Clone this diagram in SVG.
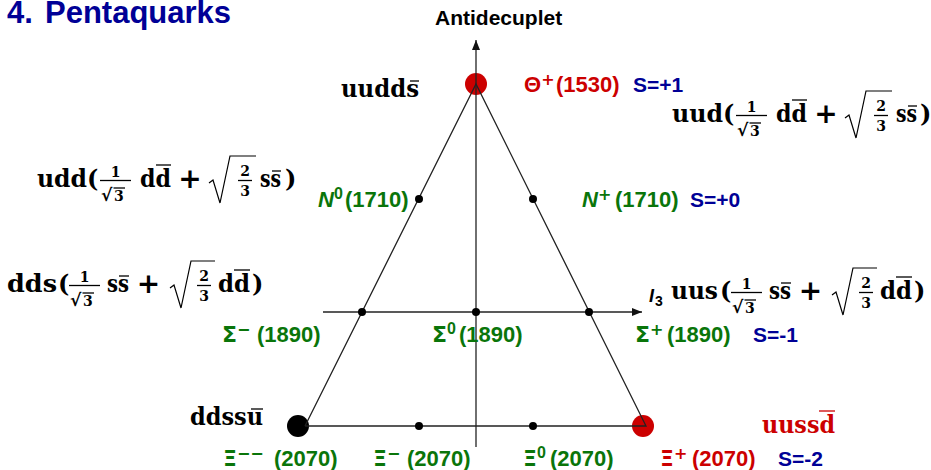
<svg xmlns="http://www.w3.org/2000/svg" width="931" height="470" viewBox="0 0 931 470">
<style>
.lab{font-family:"Liberation Sans",Arial,sans-serif;font-weight:bold;font-size:22px}
.gr{font-family:"DejaVu Sans",sans-serif;font-weight:bold}
.s21{font-size:21px}
.sup{font-family:"DejaVu Sans",sans-serif;font-weight:bold;font-size:16px}
.sup0{font-size:16px}
.it{font-style:italic}
.g{fill:#0a750a}.r{fill:#cc0000}.b{fill:#000096}.k{fill:#000}
.m{font-family:"DejaVu Serif",serif;font-weight:bold;font-size:24px}
.pl{font-size:28px}
.ms{font-family:"DejaVu Serif",serif;font-weight:bold;font-size:14px}
.sq{font-family:"DejaVu Sans",sans-serif;font-weight:bold;font-size:17px}
.bar{stroke:#000;stroke-width:1.3}
.rbar{stroke:#cc0000;stroke-width:1.3}
.rad{fill:none;stroke:#000;stroke-width:1.2;stroke-linejoin:miter}
.ln{stroke:#222;stroke-width:1.3;fill:none}
.dot{fill:#000}
</style>
<defs>
<marker id="ah" viewBox="0 0 10 8" refX="10" refY="4" markerWidth="11" markerHeight="8" markerUnits="userSpaceOnUse" orient="auto">
<path d="M0,0 L10,4 L0,8 z" fill="#111"/>
</marker>
</defs>
<rect width="931" height="470" fill="#fff"/>
<text class="lab b" style="font-size:31px" x="7" y="23">4.<tspan x="45">Pentaquarks</tspan></text>
<text class="lab k s21" x="435" y="25">Antidecuplet</text>
<g id="theta-vertex"><circle cx="476" cy="84" r="11" fill="#cc0000"/></g>
<g id="xi--vertex"><circle cx="298" cy="426" r="11" fill="#000"/></g>
<g id="xi+vertex"><circle cx="643" cy="426" r="11" fill="#cc0000"/></g>
<g id="connectors">
<line class="ln" x1="476" y1="447" x2="476" y2="40" marker-end="url(#ah)"/>
<line class="ln" x1="323" y1="312" x2="642" y2="312" marker-end="url(#ah)"/>
<polyline class="ln" points="305,426 476,84 646,426 305,426"/>
</g>
<g id="theta">
<text class="m" x="341" y="97" textLength="78" lengthAdjust="spacingAndGlyphs">uudds</text>
<line class="bar" x1="410" y1="81" x2="419" y2="81"/>
<text class="lab r" x="524" y="92">Θ<tspan class="sup" dy="-7">+</tspan><tspan x="556" y="92">(1530)</tspan></text>
<text class="lab b s21" x="633" y="92">S=+1</text>
</g>
<g id="N0">
<circle class="dot" cx="419" cy="199" r="4"/>
<text class="lab g" x="318" y="207"><tspan class="it">N</tspan><tspan class="sup0" dy="-8">0</tspan><tspan x="345" y="207">(1710)</tspan></text>
</g>
<g id="Nplus">
<circle class="dot" cx="533" cy="199" r="4"/>
<text class="lab g" x="582" y="207"><tspan class="it">N</tspan><tspan class="sup" dy="-7">+</tspan><tspan x="615" y="207">(1710)</tspan></text>
<text class="lab b s21" x="690" y="207">S=+0</text>
</g>
<g id="Sigma-">
<circle class="dot" cx="362" cy="312" r="4"/>
<text class="lab g" x="222" y="342"><tspan class="gr">Σ</tspan><tspan class="sup" dy="-7">−</tspan><tspan x="257" y="342">(1890)</tspan></text>
</g>
<g id="Sigma0">
<circle class="dot" cx="476" cy="312" r="4"/>
<text class="lab g" x="432" y="342"><tspan class="gr">Σ</tspan><tspan class="sup0" dy="-8">0</tspan><tspan x="459" y="342">(1890)</tspan></text>
</g>
<g id="Sigma+">
<circle class="dot" cx="589" cy="312" r="4"/>
<text class="lab g" x="635" y="342"><tspan class="gr">Σ</tspan><tspan class="sup" dy="-7">+</tspan><tspan x="667" y="342">(1890)</tspan></text>
<text class="lab b s21" x="753" y="342">S=-1</text>
</g>
<g id="Xi--">
<text class="m" x="190" y="425" textLength="73" lengthAdjust="spacingAndGlyphs">ddssu</text>
<line class="bar" x1="251" y1="409" x2="263" y2="409"/>
<text class="lab g" x="223" y="466"><tspan class="gr">Ξ</tspan><tspan class="sup" dy="-7">−−</tspan><tspan x="274" y="466">(2070)</tspan></text>
</g>
<g id="Xi-">
<circle class="dot" cx="419" cy="426" r="4"/>
<text class="lab g" x="373" y="466"><tspan class="gr">Ξ</tspan><tspan class="sup" dy="-7">−</tspan><tspan x="407" y="466">(2070)</tspan></text>
</g>
<g id="Xi0">
<circle class="dot" cx="533" cy="426" r="4"/>
<text class="lab g" x="523" y="466"><tspan class="gr">Ξ</tspan><tspan class="sup0" dy="-8">0</tspan><tspan x="550" y="466">(2070)</tspan></text>
</g>
<g id="Xi+">
<text class="m r" x="762" y="433" textLength="73" lengthAdjust="spacingAndGlyphs">uussd</text>
<line class="rbar" x1="819" y1="411" x2="835" y2="411"/>
<text class="lab r" x="660" y="466"><tspan class="gr">Ξ</tspan><tspan class="sup" dy="-7">+</tspan><tspan x="692" y="466">(2070)</tspan></text>
<text class="lab b s21" x="778" y="466">S=-2</text>
</g>
<text class="lab k" style="font-size:18px" x="649" y="302"><tspan class="it">I</tspan><tspan style="font-size:14px" x="655" y="306">3</tspan></text>
<g id="f-uud">
<text class="m" x="672" y="122" textLength="51" lengthAdjust="spacingAndGlyphs">uud</text>
<g transform="translate(723,122)">
<text class="m" x="0" y="0">(</text>
<text class="ms" x="28.5" y="-10" text-anchor="middle">1</text>
<line class="bar" x1="13" y1="-6.5" x2="44" y2="-6.5"/>
<text class="sq" x="14" y="14">√</text>
<text class="ms" x="27" y="14">3</text>
<line class="bar" x1="26.5" y1="1" x2="38" y2="1"/>
<text class="m" x="53" y="0" textLength="31" lengthAdjust="spacingAndGlyphs">dd</text>
<line class="bar" x1="69" y1="-22" x2="84" y2="-22"/>
<text class="m pl" x="103" y="1" text-anchor="middle">+</text>
<path class="rad" d="M122,-4 L126,-7 L133,16 L143,-31 L169,-31"/>
<text class="ms" x="158" y="-11" text-anchor="middle">2</text>
<line class="bar" x1="151" y1="-6.5" x2="165" y2="-6.5"/>
<text class="ms" x="158" y="9" text-anchor="middle">3</text>
<text class="m" x="173" y="0" textLength="21" lengthAdjust="spacingAndGlyphs">ss</text>
<line class="bar" x1="185" y1="-16" x2="194" y2="-16"/>
<text class="m" x="197" y="0">)</text>
</g>
</g>
<g id="f-udd">
<text class="m" x="37" y="187" textLength="50" lengthAdjust="spacingAndGlyphs">udd</text>
<g transform="translate(87,187)">
<text class="m" x="0" y="0">(</text>
<text class="ms" x="28.5" y="-10" text-anchor="middle">1</text>
<line class="bar" x1="13" y1="-6.5" x2="44" y2="-6.5"/>
<text class="sq" x="14" y="14">√</text>
<text class="ms" x="27" y="14">3</text>
<line class="bar" x1="26.5" y1="1" x2="38" y2="1"/>
<text class="m" x="53" y="0" textLength="31" lengthAdjust="spacingAndGlyphs">dd</text>
<line class="bar" x1="69" y1="-22" x2="84" y2="-22"/>
<text class="m pl" x="103" y="1" text-anchor="middle">+</text>
<path class="rad" d="M122,-4 L126,-7 L133,16 L143,-31 L169,-31"/>
<text class="ms" x="158" y="-11" text-anchor="middle">2</text>
<line class="bar" x1="151" y1="-6.5" x2="165" y2="-6.5"/>
<text class="ms" x="158" y="9" text-anchor="middle">3</text>
<text class="m" x="173" y="0" textLength="21" lengthAdjust="spacingAndGlyphs">ss</text>
<line class="bar" x1="185" y1="-16" x2="194" y2="-16"/>
<text class="m" x="198" y="0">)</text>
</g>
</g>
<g id="f-dds">
<text class="m" x="7" y="292" textLength="50" lengthAdjust="spacingAndGlyphs">dds</text>
<g transform="translate(58,292)">
<text class="m" x="0" y="0">(</text>
<text class="ms" x="26.5" y="-10" text-anchor="middle">1</text>
<line class="bar" x1="11" y1="-6.5" x2="42" y2="-6.5"/>
<text class="sq" x="12" y="14">√</text>
<text class="ms" x="25" y="14">3</text>
<line class="bar" x1="24.5" y1="1" x2="36" y2="1"/>
<text class="m" x="49" y="0" textLength="22" lengthAdjust="spacingAndGlyphs">ss</text>
<line class="bar" x1="61" y1="-16" x2="71" y2="-16"/>
<text class="m pl" x="90.5" y="1" text-anchor="middle">+</text>
<path class="rad" d="M112,-4 L116,-7 L123,16 L133,-31 L157,-31"/>
<text class="ms" x="146" y="-11" text-anchor="middle">2</text>
<line class="bar" x1="139" y1="-6.5" x2="153" y2="-6.5"/>
<text class="ms" x="146" y="9" text-anchor="middle">3</text>
<text class="m" x="160" y="0" textLength="32" lengthAdjust="spacingAndGlyphs">dd</text>
<line class="bar" x1="176" y1="-22" x2="192" y2="-22"/>
<text class="m" x="194" y="0">)</text>
</g>
</g>
<g id="f-uus">
<text class="m" x="671" y="299" textLength="47" lengthAdjust="spacingAndGlyphs">uus</text>
<g transform="translate(720,299)">
<text class="m" x="0" y="0">(</text>
<text class="ms" x="26.5" y="-10" text-anchor="middle">1</text>
<line class="bar" x1="11" y1="-6.5" x2="42" y2="-6.5"/>
<text class="sq" x="12" y="14">√</text>
<text class="ms" x="25" y="14">3</text>
<line class="bar" x1="24.5" y1="1" x2="36" y2="1"/>
<text class="m" x="49" y="0" textLength="22" lengthAdjust="spacingAndGlyphs">ss</text>
<line class="bar" x1="61" y1="-16" x2="71" y2="-16"/>
<text class="m pl" x="90.5" y="1" text-anchor="middle">+</text>
<path class="rad" d="M112,-4 L116,-7 L123,16 L133,-31 L157,-31"/>
<text class="ms" x="146" y="-11" text-anchor="middle">2</text>
<line class="bar" x1="139" y1="-6.5" x2="153" y2="-6.5"/>
<text class="ms" x="146" y="9" text-anchor="middle">3</text>
<text class="m" x="160" y="0" textLength="32" lengthAdjust="spacingAndGlyphs">dd</text>
<line class="bar" x1="176" y1="-22" x2="192" y2="-22"/>
<text class="m" x="194" y="0">)</text>
</g>
</g>
</svg>
